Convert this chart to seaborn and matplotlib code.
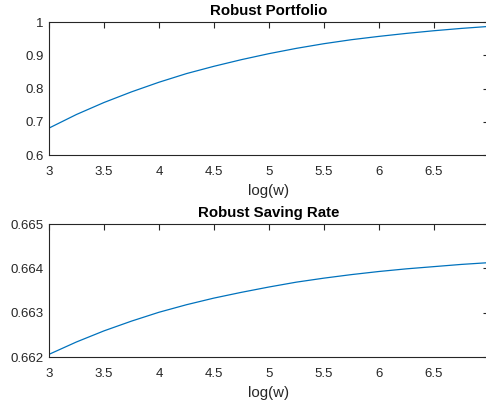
import numpy as np
import pandas as pd
import matplotlib
matplotlib.use("Agg")
import matplotlib.pyplot as plt
import seaborn as sns

# --- DATA ---
log_w = [3.0, 3.25, 3.5, 3.75, 4.0, 4.25, 4.5, 4.75, 5.0,
         5.25, 5.5, 5.75, 6.0, 6.25, 6.5, 6.75, 7.0]
portfolio = [0.681, 0.722, 0.758, 0.790, 0.819, 0.845, 0.867, 0.887, 0.905,
             0.921, 0.935, 0.947, 0.957, 0.966, 0.974, 0.981, 0.987]
saving_rate = [0.66206, 0.66234, 0.66259, 0.66281, 0.66301, 0.66318, 0.66333, 0.66346, 0.66358,
               0.66369, 0.66378, 0.66386, 0.66393, 0.66399, 0.66404, 0.66409, 0.66413]

x_ticks = [3, 3.5, 4, 4.5, 5, 5.5, 6, 6.5, 7]
x_ticklabels = ["3", "3.5", "4", "4.5", "5", "5.5", "6", "6.5", "7"]
top_yticks = [0.6, 0.7, 0.8, 0.9, 1.0]
top_yticklabels = ["0.6", "0.7", "0.8", "0.9", "1"]
bot_yticks = [0.662, 0.663, 0.664, 0.665]
bot_yticklabels = ["0.662", "0.663", "0.664", "0.665"]

df = pd.DataFrame({"log_w": log_w, "portfolio": portfolio, "saving": saving_rate})

sns.set_style("white")
plt.rcParams["font.family"] = ["Liberation Sans", "DejaVu Sans"]

LINE = "#0072BD"
AXC = "#262626"

fig = plt.figure(figsize=(4.86, 4.04), dpi=100)
ax1 = fig.add_axes([0.1008, 0.6163, 0.905, 0.329])
ax2 = fig.add_axes([0.1008, 0.1163, 0.905, 0.329])


def style_axes(ax, yticks, ylabels, ylim, title):
    ax.set_xlim(3, 7)
    ax.set_ylim(*ylim)
    ax.set_xticks(x_ticks)
    ax.set_xticklabels(x_ticklabels)
    ax.set_yticks(yticks)
    ax.set_yticklabels(ylabels)
    ax.tick_params(direction="in", length=4, width=0.8, colors=AXC,
                   labelsize=9.5, top=True, right=True)
    ax.tick_params(axis="x", pad=8)
    ax.tick_params(axis="y", pad=4)
    for s in ax.spines.values():
        s.set_color(AXC)
        s.set_linewidth(0.8)
    ax.set_xlabel("log(w)", fontsize=10.8, color=AXC, labelpad=4)
    ax.set_ylabel("")
    ax.set_title(title, fontsize=10.8, fontweight="bold", color="black", pad=5)


sns.lineplot(data=df, x="log_w", y="portfolio", ax=ax1, color=LINE, linewidth=0.9)
style_axes(ax1, top_yticks, top_yticklabels, (0.6, 1.0), "Robust Portfolio")

sns.lineplot(data=df, x="log_w", y="saving", ax=ax2, color=LINE, linewidth=0.9)
style_axes(ax2, bot_yticks, bot_yticklabels, (0.662, 0.665), "Robust Saving Rate")

plt.savefig("out.png", dpi=100)
